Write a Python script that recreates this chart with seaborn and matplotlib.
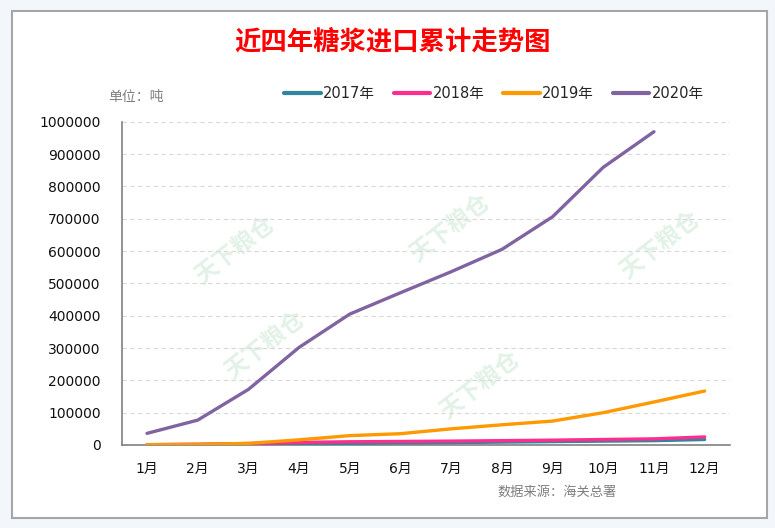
import numpy as np
import pandas as pd
import matplotlib
matplotlib.use("Agg")
import matplotlib.pyplot as plt
from matplotlib.patches import Rectangle
import seaborn as sns

# Dados (toneladas, acumulado)
months = ['1月', '2月', '3月', '4月', '5月', '6月', '7月', '8月', '9月', '10月', '11月', '12月']
years = ['2017年', '2018年', '2019年', '2020年']
v2017 = [500, 1000, 2000, 3500, 5000, 6500, 7500, 9000, 10500, 12000, 13500, 17000]
v2018 = [1000, 2500, 4500, 8000, 10000, 11000, 12000, 13500, 15000, 17000, 19000, 25000]
v2019 = [1000, 2000, 5000, 16000, 29000, 35000, 50000, 62500, 74000, 100000, 133000, 167000]
v2020 = [36000, 77000, 172000, 302000, 405000, 471000, 536000, 605000, 706000, 859000, 969000]
colors = ['#31859c', '#ff2d8f', '#ff9900', '#8064a2']

rows = []
for year, vals in zip(years, [v2017, v2018, v2019, v2020]):
    for m, v in zip(months, vals):
        rows.append({'月份': m, '年份': year, '进口量': v})
df = pd.DataFrame(rows)

sns.set_style("white")
plt.rcParams['font.family'] = ['DejaVu Sans', 'Noto Sans CJK SC']

fig = plt.figure(figsize=(7.75, 5.28), dpi=100)
fig.patch.set_facecolor('#f3f7fc')
# moldura branca
fig.patches.append(Rectangle((12 / 775, 1 - 518 / 528), 755 / 775, 507 / 528,
                             transform=fig.transFigure, facecolor='white',
                             edgecolor='#a6a6a6', linewidth=1.5, zorder=-2))

ax = fig.add_axes([121.7 / 775, 1 - 445 / 528, 608.3 / 775, 323.3 / 528])
ax.set_facecolor('none')

# marcas d'água
for (wx, wy) in [(235, 250), (265, 345), (450, 228), (660, 245), (480, 385)]:
    fig.text(wx / 775, 1 - wy / 528, '天下粮仓', rotation=38, fontsize=17,
             color='#e3f2e7', ha='center', va='center',
             family=['Noto Sans CJK SC'], fontweight='bold', zorder=-1)

sns.lineplot(data=df, x='月份', y='进口量', hue='年份', palette=dict(zip(years, colors)),
             linewidth=2.4, ax=ax, sort=False, zorder=3)

ax.set_xlim(-0.5, len(months) - 0.5)
ax.set_ylim(0, 1000000)
ax.set_yticks(np.arange(0, 1000001, 100000))
ax.set_yticklabels([str(int(t)) for t in np.arange(0, 1000001, 100000)])
ax.yaxis.grid(True, linestyle=(0, (4, 3)), color='#d9d9d9', linewidth=0.8)
ax.xaxis.grid(False)
ax.set_xticks(np.arange(-0.5, len(months), 1), minor=True)
ax.tick_params(axis='x', which='major', length=0, pad=12, labelsize=10, labelcolor='#111111')
ax.tick_params(axis='x', which='minor', direction='in', length=5, color='#808080', width=1)
ax.tick_params(axis='y', length=0, pad=15, labelsize=10, labelcolor='#111111')
for lab in ax.get_xticklabels() + ax.get_yticklabels():
    lab.set_fontweight('medium')
ax.set_xlabel('')
ax.set_ylabel('')
for s in ['top', 'right']:
    ax.spines[s].set_visible(False)
for s in ['left', 'bottom']:
    ax.spines[s].set_color('#808080')
    ax.spines[s].set_linewidth(1.2)

leg = ax.legend(loc='center', bbox_to_anchor=(0.612, 1.086), ncol=4, frameon=False,
                handlelength=2.5, handletextpad=0.15, columnspacing=1.3, fontsize=10.5)
for line in leg.get_lines():
    line.set_linewidth(3)

fig.text(393 / 775, 1 - 42 / 528, '近四年糖浆进口累计走势图', ha='center', va='center',
         fontsize=19, color='#ff0000', fontweight='bold', family=['Noto Sans CJK SC'])
fig.text(108 / 775, 1 - 97 / 528, '单位：吨', ha='left', va='center', fontsize=10,
         color='#7f7f7f', family=['Noto Sans CJK SC'])
fig.text(557 / 775, 1 - 492 / 528, '数据来源：海关总署', ha='center', va='center', fontsize=9.5,
         color='#7f7f7f', family=['Noto Sans CJK SC'])

fig.savefig('out.png', dpi=100)
